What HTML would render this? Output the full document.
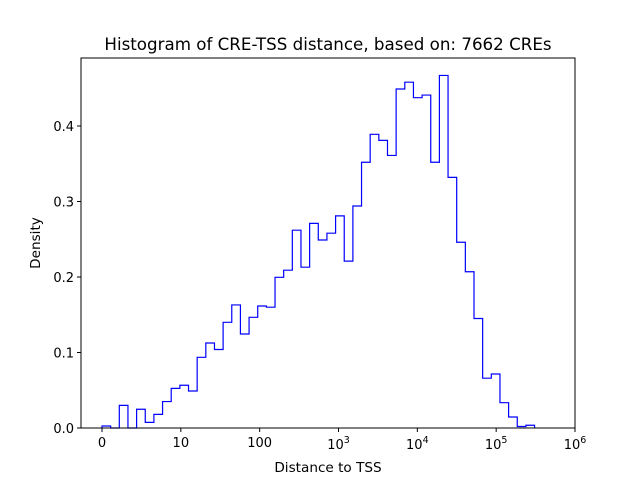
<!DOCTYPE html>
<html><head><meta charset="utf-8"><style>
body{margin:0;background:#fff}
svg{display:block;font-family:"DejaVu Sans","Liberation Sans",sans-serif}
</style></head><body>
<svg id="chart" width="640" height="480">
<rect width="640" height="480" fill="#fff"/>
<text x="328" y="50" font-size="16.7" text-anchor="middle">Histogram of CRE-TSS distance, based on: 7662 CREs</text>
<g id="plot"></g>
<text x="328" y="472" font-size="13.6" text-anchor="middle">Distance to TSS</text>
<text transform="translate(40,243) rotate(-90)" font-size="13.6" text-anchor="middle">Density</text>
</svg>
<script>
const densities = [0.0026,0,0.030,0,0.0248,0.0075,0.018,0.035,0.0525,0.0566,0.049,0.0936,0.1126,0.104,0.14,0.163,0.1245,0.1466,0.1616,0.160,
0.1996,0.209,0.262,0.213,0.271,0.249,0.258,0.281,0.221,0.294,0.352,0.389,0.381,0.361,0.449,0.458,0.4375,0.441,0.352,0.467,
0.332,0.246,0.207,0.145,0.066,0.0715,0.0335,0.0146,0.002,0.0036];
const binStartT = 0, binEndT = 5.487; // symlog-transformed bin range
const xTickValues = [0,10,100,1000,10000,100000,1000000];
const xTickLabels = ["0","10","100","10|3","10|4","10|5","10|6"];
const yTickValues = [0,0.1,0.2,0.3,0.4];
const yTickLabels = ["0.0","0.1","0.2","0.3","0.4"];

const L=81,R=575,T=58,B=428;
function symT(v){return v<=10? v/10 : 1+Math.log10(v/10);}
function xT(t){return 102 + t*(R-102)/6;}
function xs(v){return xT(symT(v));}
function ys(d){return B - d*(B-126)/0.4;}
const NS="http://www.w3.org/2000/svg";
const g=document.getElementById('plot');
function mk(tag,attrs){const e=document.createElementNS(NS,tag);for(const k in attrs)e.setAttribute(k,attrs[k]);g.appendChild(e);return e;}

const n=densities.length;
let d=`M${xT(binStartT)},${B}`;
for(let i=0;i<n;i++){
  const x0=xT(binStartT+(binEndT-binStartT)*i/n), x1=xT(binStartT+(binEndT-binStartT)*(i+1)/n);
  d+=` L${x0},${ys(densities[i])} L${x1},${ys(densities[i])}`;
}
d+=` L${xT(binEndT)},${B}`;
const hist=mk('path',{d:d,fill:'none',stroke:'#0000ff','stroke-width':1.2});



const frame=mk('rect',{x:L,y:T,width:R-L,height:B-T,fill:'none',stroke:'#000','stroke-width':1});



xTickValues.forEach((v,i)=>{
  const x=xs(v);
  const tk=mk('line',{x1:x,x2:x,y1:B,y2:B+4,stroke:'#000'});
  
  
  const parts=xTickLabels[i].split('|');
  const t=mk('text',{x:x,y:B+19,'font-size':13,'text-anchor':'middle'});
  
  
  if(parts.length===1){t.textContent=parts[0];}
  else{
    t.setAttribute('y',B+21);
    const a=document.createElementNS(NS,'tspan');a.textContent=parts[0];t.appendChild(a);
    const b=document.createElementNS(NS,'tspan');b.textContent=parts[1];b.setAttribute('dy','-6');b.setAttribute('font-size','9.5');t.appendChild(b);
  }
});
yTickValues.forEach((v,i)=>{
  const y=ys(v);
  const tk=mk('line',{x1:L-4,x2:L,y1:y,y2:y,stroke:'#000'});
  
  
  const t=mk('text',{x:L-7,y:y+5,'font-size':13,'text-anchor':'end'});
  
  
  t.textContent=yTickLabels[i];
});
</script>
</body></html>
